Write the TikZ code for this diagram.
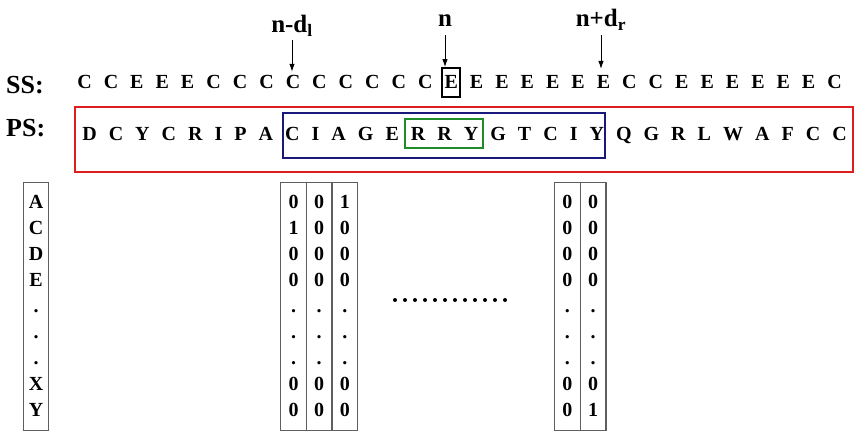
\documentclass[tikz,border=0pt]{standalone}
\usepackage{fontspec}
\setmainfont{Liberation Serif}
\usetikzlibrary{arrows.meta}
\definecolor{boxred}{RGB}{222,30,30}
\definecolor{boxblue}{RGB}{25,25,125}
\definecolor{boxgreen}{RGB}{30,140,40}
\definecolor{colgray}{RGB}{95,95,95}

\begin{document}
\begin{tikzpicture}[x=1pt,y=-1pt,
  seq/.style={font=\fontsize{20}{24}\selectfont\bfseries, inner sep=0pt, outer sep=0pt, anchor=base west},
  rowlab/.style={font=\fontsize{26}{30}\selectfont\bfseries, inner sep=0pt, anchor=base west},
  poslab/.style={font=\fontsize{25}{30}\selectfont\bfseries, inner sep=0pt, anchor=base},
  cell/.style={font=\fontsize{20}{24}\selectfont\bfseries, inner sep=0pt, anchor=base},
  colbox/.style={draw=colgray, line width=1.2pt, minimum width=25.7pt, minimum height=248pt, inner sep=0pt, anchor=north},
  arr/.style={-{Latex[length=8pt,width=5.5pt]}, line width=0.9pt},
]
\useasboundingbox (0,0) rectangle (856,433);

% row labels
\node[rowlab] (ss) at (6,94) {SS:};
\node[rowlab] (ps) at (6,136) {PS:};

% secondary structure sequence, letters set one after another
\node[seq, anchor=base] (s0) at (84.5,89) {C};
\foreach \c [count=\i from 1, remember=\i as \j (initially 0)] in
  {C,E,E,E,C,C,C,C,C,C,C,C,C,E,E,E,E,E,E,E,C,C,E,E,E,E,E,E,C}
  \node[seq] (s\i) at ([xshift=12.03pt]s\j.base east) {\c};

% protein sequence
\node[seq, anchor=base] (p0) at (89.5,140) {D};
\foreach \c [count=\i from 1, remember=\i as \j (initially 0)] in
  {C,Y,C,R,I,P,A,C,I,A,G,E,R,R,Y,G,T,C,I,Y,Q,G,R,L,W,A,F,C,C}
  \node[seq] (p\i) at ([xshift=12.03pt]p\j.base east) {\c};

% windows around the sequence
\draw[boxred, line width=2.2pt] (75,107) rectangle (853,172);
\draw[boxblue, line width=2.4pt] (283,113) rectangle (605,158);
\draw[boxgreen, line width=2pt] (405,119) rectangle (483,148);
\node[draw, line width=1.8pt, minimum width=18pt, minimum height=29pt, inner sep=0pt] (ebox) at (s14) {};

% position labels and arrows
\node[poslab] (ndl) at (292,33) {n-d\textsubscript{l}};
\node[poslab] (nn) at (445,27) {n};
\node[poslab] (ndr) at (601,27) {n+d\textsubscript{r}};
\draw[arr, shorten <=3pt, shorten >=4pt] (ndl.south) -- (ndl.south |- s8.north);
\draw[arr, shorten <=8pt] (nn.south) -- (nn.south |- ebox.north);
\draw[arr, shorten <=4pt, shorten >=7pt] (ndr.south) -- (ndr.south |- s20.north);

% one-hot encoding columns
\node[colbox] (c0) at (36,182) {};
\foreach \t [count=\k from 0] in {A,C,D,E,.,.,.,X,Y}
  \node[cell] (c0-\k) at (36,{208+26.1*\k}) {\t};

\node[colbox] (c1) at (293.5,182) {};
\foreach \t [count=\k from 0] in {0,1,0,0,.,.,.,0,0}
  \node[cell] (c1-\k) at (293.5,{208+26.1*\k}) {\t};
\node[colbox] (c2) at (319.2,182) {};
\foreach \t [count=\k from 0] in {0,0,0,0,.,.,.,0,0}
  \node[cell] (c2-\k) at (319.2,{208+26.1*\k}) {\t};
\node[colbox] (c3) at (344.9,182) {};
\foreach \t [count=\k from 0] in {1,0,0,0,.,.,.,0,0}
  \node[cell] (c3-\k) at (344.9,{208+26.1*\k}) {\t};

\node[colbox] (c4) at (567.4,182) {};
\foreach \t [count=\k from 0] in {0,0,0,0,.,.,.,0,0}
  \node[cell] (c4-\k) at (567.4,{208+26.1*\k}) {\t};
\node[colbox] (c5) at (593.1,182) {};
\foreach \t [count=\k from 0] in {0,0,0,0,.,.,.,0,1}
  \node[cell] (c5-\k) at (593.1,{208+26.1*\k}) {\t};

% ellipsis between the column groups
\foreach \k in {0,...,11}
  \fill (395+10*\k,300) circle (2pt);
\end{tikzpicture}
\end{document}
